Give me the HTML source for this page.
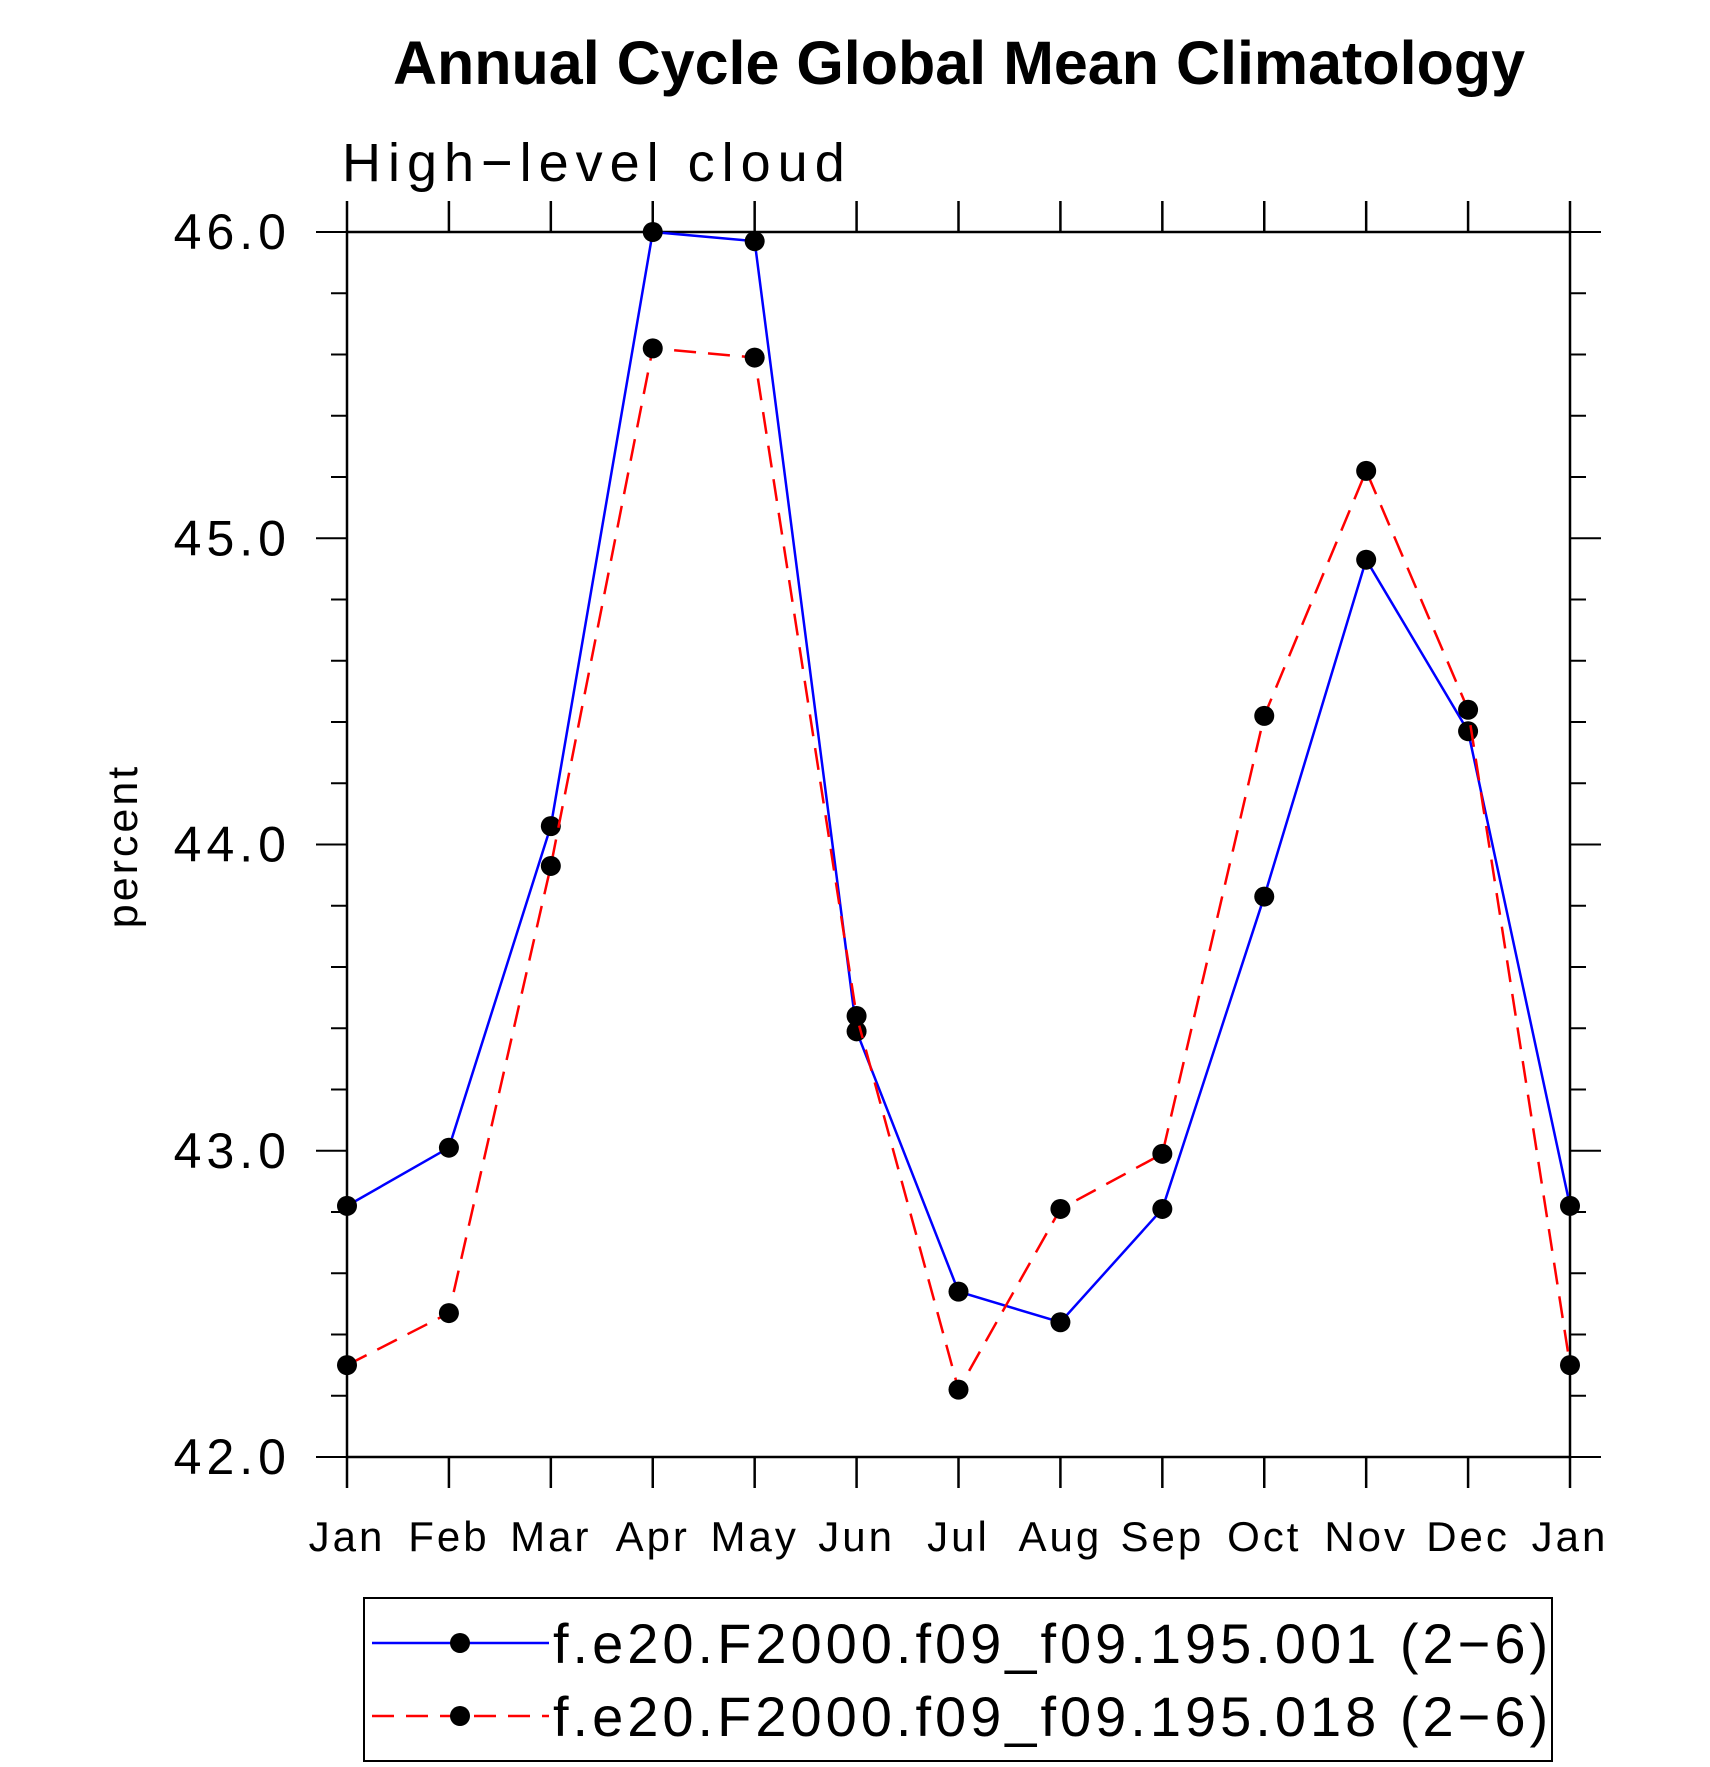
<!DOCTYPE html>
<html><head><meta charset="utf-8"><style>body{margin:0;background:#fff}svg{display:block}</style></head>
<body>
<svg id="chart" width="1710" height="1767" xmlns="http://www.w3.org/2000/svg" font-family="Liberation Sans, sans-serif">
<text x="959" y="84" text-anchor="middle" font-size="61" font-weight="bold">Annual Cycle Global Mean Climatology</text>
<text x="342" y="181" font-size="54" font-weight="300" letter-spacing="7">High−level cloud</text>
<text transform="translate(137,846) rotate(-90)" text-anchor="middle" font-size="43" letter-spacing="3">percent</text>
<g id="axes"></g><g id="series"></g>
<g>
<rect x="364" y="1598" width="1188" height="163" fill="none" stroke="#000" stroke-width="2"/>
<line x1="372" y1="1643" x2="549" y2="1643" stroke="#00f" stroke-width="2.5"/>
<circle cx="460" cy="1643" r="10"/>
<text x="553" y="1663" font-size="56" letter-spacing="4">f.e20.F2000.f09_f09.195.001 (2−6)</text>
<line x1="372" y1="1716" x2="549" y2="1716" stroke="#f00" stroke-width="2.5" stroke-dasharray="22,12"/>
<circle cx="460" cy="1716" r="10"/>
<text x="553" y="1736" font-size="56" letter-spacing="4">f.e20.F2000.f09_f09.195.018 (2−6)</text>
</g>
</svg>
<script>
const months=["Jan","Feb","Mar","Apr","May","Jun","Jul","Aug","Sep","Oct","Nov","Dec","Jan"];
const series001=[42.82,43.01,44.06,46.0,45.97,43.39,42.54,42.44,42.81,43.83,44.93,44.37,42.82];
const series018=[42.30,42.47,43.93,45.62,45.59,43.44,42.22,42.81,42.99,44.42,45.22,44.44,42.30];
const yTicks=["42.0","43.0","44.0","45.0","46.0"];
const L=347,R=1570,T=232,B=1457,ymin=42,ymax=46;
const xs=i=>L+(R-L)*i/(months.length-1);
const ys=v=>B-(v-ymin)/(ymax-ymin)*(B-T);
const NS="http://www.w3.org/2000/svg";
function mk(tag,attrs,parent){const e=document.createElementNS(NS,tag);for(const k in attrs)e.setAttribute(k,attrs[k]);parent.appendChild(e);return e;}
const ax=document.getElementById('axes');
const frame=mk('rect',{x:L,y:T,width:R-L,height:B-T,fill:'none',stroke:'#000','stroke-width':2.5},ax);


months.forEach((m,i)=>{
  const x=xs(i);
  mk('line',{x1:x,y1:B,x2:x,y2:B+31,stroke:'#000','stroke-width':2.5},ax);
  mk('line',{x1:x,y1:T,x2:x,y2:T-31,stroke:'#000','stroke-width':2.5},ax);
  const t=mk('text',{x:x,y:1551,'text-anchor':'middle','font-size':42,'font-weight':300,'letter-spacing':3},ax);
  t.textContent=m;
  
  
});
for(let k=0;k<=20;k++){
  const v=ymin+k*0.2,y=ys(v),major=k%5===0,len=major?31:16;
  mk('line',{x1:L-len,y1:y,x2:L,y2:y,stroke:'#000','stroke-width':2},ax);
  mk('line',{x1:R,y1:y,x2:R+len,y2:y,stroke:'#000','stroke-width':2},ax);
}
yTicks.forEach(s=>{
  const t=mk('text',{x:291,y:ys(parseFloat(s))+17,'text-anchor':'end','font-size':50,'font-weight':300,'letter-spacing':5},ax);
  t.textContent=s;
  
  
});
const sg=document.getElementById('series');
function draw(vals,color,dash,name){
  const p=mk('polyline',{points:vals.map((v,i)=>xs(i)+','+ys(v)).join(' '),fill:'none',stroke:color,'stroke-width':2.5,'stroke-dasharray':dash},sg);
  
  
  vals.forEach((v,i)=>{
    const c=mk('circle',{cx:xs(i),cy:ys(v),r:10,fill:'#000'},sg);
    
    
  });
}
draw(series001,'#00f','none','series-001');
draw(series018,'#f00','22,12','series-018');
</script>
</body></html>
